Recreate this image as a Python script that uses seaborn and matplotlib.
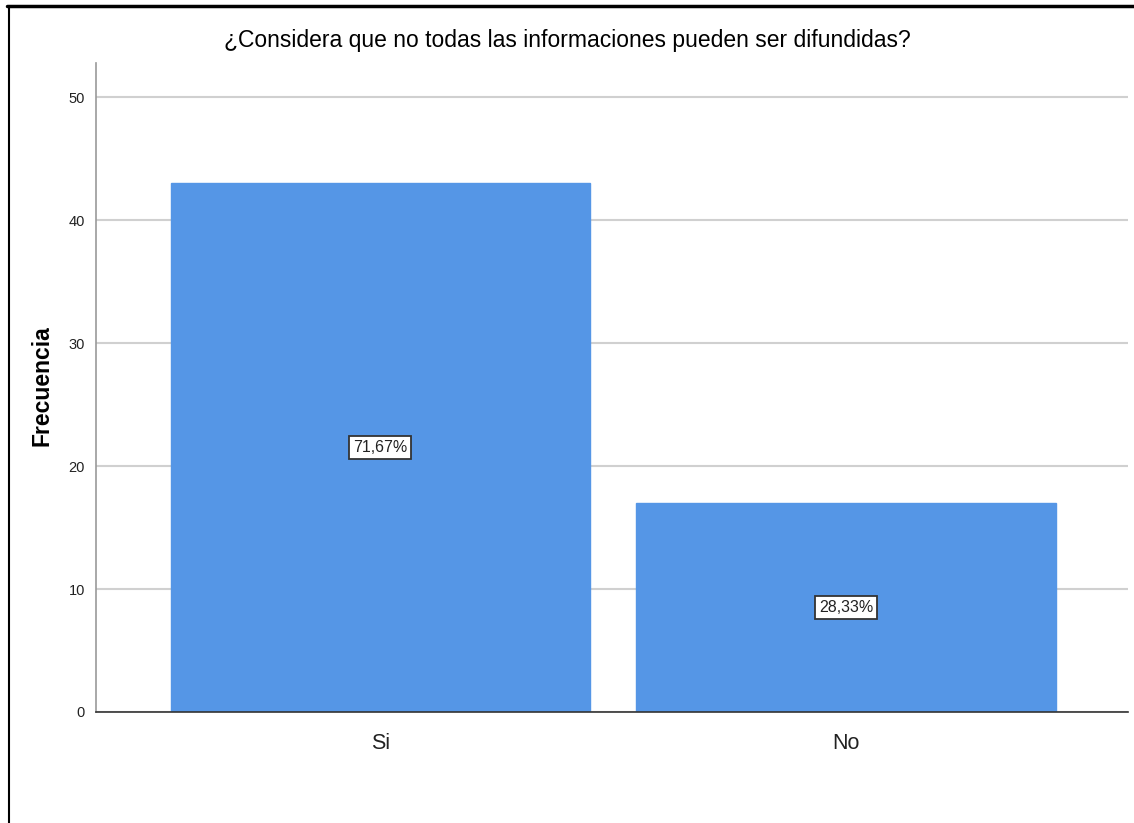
import matplotlib
matplotlib.use("Agg")
import matplotlib.pyplot as plt
from matplotlib.lines import Line2D
import seaborn as sns
import pandas as pd

categories = ["Si", "No"]
counts = [43, 17]
pct_labels = ["71,67%", "28,33%"]
title = "¿Considera que no todas las informaciones pueden ser difundidas?"
ylabel = "Frecuencia"
yticks = [0, 10, 20, 30, 40, 50]

sns.set_theme(style="white")
narrow = ["Liberation Sans", "DejaVu Sans"]
plt.rcParams["font.family"] = ["Liberation Sans", "DejaVu Sans"]

df = pd.DataFrame({"cat": categories, "n": counts})

fig = plt.figure(figsize=(11.34, 8.23), dpi=100)
ax = fig.add_axes([0.0847, 0.1349, 0.91, 0.7885])

ax.yaxis.grid(True, color="#d0d0d0", linewidth=1.5, zorder=0)
ax.set_axisbelow(True)
sns.barplot(data=df, x="cat", y="n", color="#5596e6", width=0.9, saturation=1,
            edgecolor="#5596e6", ax=ax, zorder=2)

ax.set_xlim(-0.61, 1.605)
ax.set_ylim(0, 52.8)
ax.set_yticks(yticks)
ax.set_yticklabels([str(t) for t in yticks], family=narrow, fontsize=10.5, color="#222222")
ax.set_xticks(range(len(categories)))
ax.set_xticklabels(categories, family=narrow, fontsize=15.5, color="#222222")
ax.tick_params(axis="x", length=0, pad=15)
ax.tick_params(axis="y", length=0, pad=8)
ax.set_xlabel("")
ax.set_ylabel(ylabel, fontsize=16.5, fontweight="bold", color="black")
ax.yaxis.set_label_coords(-0.041, 0.503)

for s in ["top", "right"]:
    ax.spines[s].set_visible(False)
ax.spines["left"].set_color("#999999")
ax.spines["left"].set_linewidth(1.2)
ax.spines["bottom"].set_color("#333333")
ax.spines["bottom"].set_linewidth(1.2)

for i, (v, lab) in enumerate(zip(counts, pct_labels)):
    ax.text(i, v / 2, lab, ha="center", va="center", fontsize=11.5, family=narrow,
            color="#222222", zorder=5,
            bbox=dict(boxstyle="square,pad=0.25", facecolor="white", edgecolor="#333333", linewidth=1.3))

fig.text(0.5, 0.951, title, ha="center", va="center", fontsize=16.5, family=narrow, color="black")

fig.add_artist(Line2D([0.0065, 1.0], [0.993, 0.993], transform=fig.transFigure, color="black", linewidth=2.5))
fig.add_artist(Line2D([0.0075, 0.0075], [0.0, 0.993], transform=fig.transFigure, color="black", linewidth=1.5))

fig.savefig("out.png", dpi=100, facecolor="white")
